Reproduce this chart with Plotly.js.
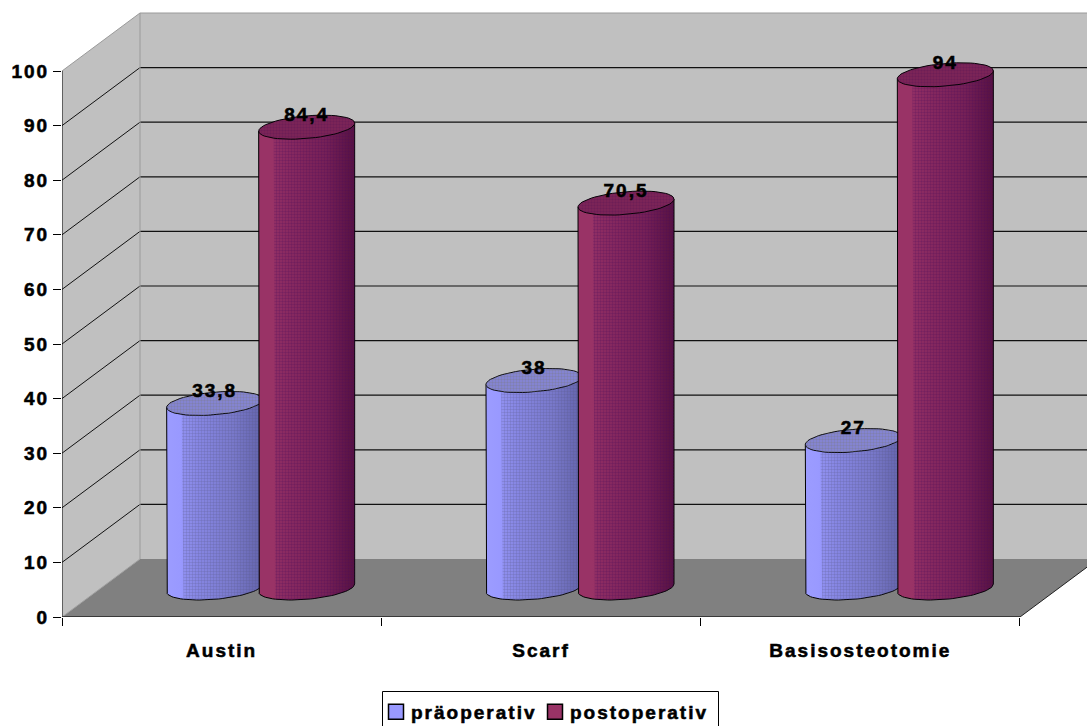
<!DOCTYPE html>
<html>
<head>
<meta charset="utf-8">
<script src="https://cdn.plot.ly/plotly-3.0.1.min.js"></script>
<style>
  html, body { margin: 0; padding: 0; background: #fff; overflow: hidden; }
  #chart { width: 1087px; height: 726px; }
  #chart svg text { letter-spacing: 2px; stroke: #000; stroke-width: 0.55px; }
  #chart .legend .scrollbox { clip-path: none !important; }
</style>
</head>
<body>
<div id="chart"></div>
<script>
// Chart data
const categories = ['Austin', 'Scarf', 'Basisosteotomie'];
const seriesNames = ['präoperativ', 'postoperativ'];
const preValues = [33.8, 38, 27];
const postValues = [84.4, 70.5, 94];
const valueTicks = [0, 10, 20, 30, 40, 50, 60, 70, 80, 90, 100];
const categoryEdges = [0, 1, 2, 3];

// Axis scale: pixels per data unit
const PX_X = 319.33, PX_Y = 5.46;
const W = 1087, H = 726, ML = 62, MB = 109;
// Oblique depth of the floor, in data units
const DEPTH_X = 78 / PX_X, DEPTH_Y = 58 / PX_Y;
const FONT = { family: 'Liberation Sans, Arial, sans-serif', size: 19, color: '#000', weight: 700 };

const styles = [
  { base: '#9999FF', grad: [[0, '#9C9CFF'], [0.14, '#9999FF'], [0.32, '#8C8CEE'], [0.7, '#7C7CD2'], [1, '#6565B0']],
    cap: '#8686DC', dot: 'rgba(85,85,125,0.38)', capDot: 'rgba(120,120,130,0.50)' },
  { base: '#993366', grad: [[0, '#993366'], [0.15, '#993366'], [0.32, '#8E2C60'], [0.7, '#7A2256'], [1, '#581240']],
    cap: '#7F2658', dot: 'rgba(70,10,90,0.38)', capDot: 'rgba(70,10,80,0.30)' }
];

// Cylinder ellipse in pixels: half-axes along the front plane and through the depth
const R = 48, CAP_B = 16, CAP_C = 12, CAP_A = Math.sqrt(R * R - CAP_B * CAP_B);
const BAR_SHIFT = 46 / PX_X;
const TILT = Math.atan(CAP_B / CAP_A);

function ellipsePoint(cx, cy, t) {
  return [cx + (CAP_A * Math.cos(t) + CAP_B * Math.sin(t)) / PX_X,
          cy + (CAP_C * Math.sin(t)) / PX_Y];
}
function arc(cx, cy, from, to, n) {
  const xs = [], ys = [];
  for (let i = 0; i <= n; i++) {
    const p = ellipsePoint(cx, cy, from + (to - from) * i / n);
    xs.push(p[0]); ys.push(p[1]);
  }
  return [xs, ys];
}

const traces = [];

// Flat bars carry the values and the legend swatches; the cylinders are drawn over them
[preValues, postValues].forEach((vals, s) => {
  traces.push({
    type: 'bar',
    name: seriesNames[s],
    x: categories.map((_, i) => i + 0.5 + DEPTH_X / 2 + (s ? BAR_SHIFT : -BAR_SHIFT)),
    y: vals,
    base: DEPTH_Y / 2,
    width: 50 / PX_X,
    marker: { color: styles[s].base, line: { color: '#000', width: 1.5 } },
    hoverinfo: 'skip'
  });
});

function addCylinder(cx, v, st) {
  const yBase = DEPTH_Y / 2, yTop = v + DEPTH_Y / 2;
  const L = cx - R / PX_X, Rt = cx + R / PX_X;
  const front = arc(cx, yBase, Math.PI + TILT, 2 * Math.PI + TILT, 40);
  const topL = ellipsePoint(cx, yTop, Math.PI + TILT);
  const topR = ellipsePoint(cx, yTop, TILT);
  // Shaded body
  traces.push({
    type: 'scatter', mode: 'lines', showlegend: false, hoverinfo: 'skip',
    x: [topL[0]].concat(front[0], [topR[0], topL[0]]),
    y: [topL[1]].concat(front[1], [topR[1], topL[1]]),
    line: { color: '#000', width: 1 }, fill: 'toself',
    fillgradient: { type: 'horizontal', colorscale: st.grad, start: L, stop: Rt }
  });
  // Stipple over the shaded part of the body
  const inset = L + 15 / PX_X;
  const sx = [], sy = [];
  front[0].forEach((x, i) => { if (x >= inset) { sx.push(x); sy.push(front[1][i]); } });
  traces.push({
    type: 'scatter', mode: 'none', showlegend: false, hoverinfo: 'skip',
    x: [inset].concat(sx, [Rt, inset]),
    y: [yTop].concat(sy, [yTop, yTop]),
    fill: 'toself', fillcolor: 'rgba(0,0,0,0)',
    fillpattern: { shape: '.', size: 3, solidity: 0.5, fgcolor: st.dot, bgcolor: 'rgba(0,0,0,0)' }
  });
  // Top face
  const cap = arc(cx, yTop, 0, 2 * Math.PI, 60);
  traces.push({
    type: 'scatter', mode: 'lines', showlegend: false, hoverinfo: 'skip',
    x: cap[0], y: cap[1], line: { color: '#000', width: 1 },
    fill: 'toself', fillcolor: st.cap
  });
  traces.push({
    type: 'scatter', mode: 'none', showlegend: false, hoverinfo: 'skip',
    x: cap[0], y: cap[1], fill: 'toself', fillcolor: 'rgba(0,0,0,0)',
    fillpattern: { shape: '.', size: 3, solidity: 0.5, fgcolor: st.capDot, bgcolor: 'rgba(0,0,0,0)' }
  });
}

[preValues, postValues].forEach((vals, s) => {
  vals.forEach((v, i) => {
    addCylinder(i + 0.5 + DEPTH_X / 2 + (s ? BAR_SHIFT : -BAR_SHIFT), v, styles[s]);
  });
});

// Value labels just above each top face
[preValues, postValues].forEach((vals, s) => {
  traces.push({
    type: 'scatter', mode: 'text', showlegend: false, hoverinfo: 'skip',
    x: categories.map((_, i) => i + 0.5 + DEPTH_X / 2 + (s ? BAR_SHIFT : -BAR_SHIFT)),
    y: vals.map(v => v + DEPTH_Y / 2 + 11 / PX_Y),
    text: vals.map(v => String(v).replace('.', ',')),
    textposition: 'middle center',
    textfont: FONT,
    cliponaxis: false
  });
});

// Walls, floor and gridlines of the box
const polygon = pts => 'M' + pts.map(p => p[0] + ',' + p[1]).join('L') + 'Z';
const line = (x0, y0, x1, y1, color, width) => ({
  type: 'line', xref: 'x', yref: 'y', layer: 'below', x0, y0, x1, y1,
  line: { color, width }
});
const fillShape = (pts, color) => ({
  type: 'path', xref: 'x', yref: 'y', layer: 'below', path: polygon(pts),
  fillcolor: color, line: { width: 0 }
});
const xEnd = categoryEdges[categoryEdges.length - 1];
const shapes = [
  fillShape([[DEPTH_X, DEPTH_Y], [xEnd + DEPTH_X, DEPTH_Y], [xEnd + DEPTH_X, 100 + DEPTH_Y], [DEPTH_X, 100 + DEPTH_Y]], '#C0C0C0'),
  fillShape([[0, 0], [DEPTH_X, DEPTH_Y], [DEPTH_X, 100 + DEPTH_Y], [0, 100]], '#C0C0C0'),
  fillShape([[0, 0], [xEnd, 0], [xEnd + DEPTH_X, DEPTH_Y], [DEPTH_X, DEPTH_Y]], '#808080')
];
valueTicks.filter(v => v > 0 && v < 100).forEach(v => {
  shapes.push(line(DEPTH_X, v + DEPTH_Y, xEnd + DEPTH_X, v + DEPTH_Y, '#111', 1.2));
  shapes.push(line(0, v, DEPTH_X, v + DEPTH_Y, '#111', 1));
});
shapes.push(line(DEPTH_X, DEPTH_Y, DEPTH_X, 100 + DEPTH_Y, '#9a9a9a', 1));
shapes.push(line(DEPTH_X, 100 + DEPTH_Y, xEnd + DEPTH_X, 100 + DEPTH_Y, '#9a9a9a', 1));
shapes.push(line(0, 100, DEPTH_X, 100 + DEPTH_Y, '#9a9a9a', 1));
shapes.push(line(0, 0, DEPTH_X, DEPTH_Y, '#a0a0a0', 1));
shapes.push(line(xEnd, 0, xEnd + DEPTH_X, DEPTH_Y, '#222', 1));
// Axis lines stop at the ends of the scale
shapes.push(line(0, 0, 0, 100, '#000', 1));
shapes.push(line(0, 0, xEnd, 0, '#222', 1.5));
// Legend frame runs past the lower page edge
shapes.push({
  type: 'rect', xref: 'paper', yref: 'paper', layer: 'above',
  x0: (382.5 - ML) / (W - ML), x1: (718.5 - ML) / (W - ML),
  y0: -0.3, y1: (H - MB - 691.5) / (H - MB),
  fillcolor: 'rgba(255,255,255,0)', line: { color: '#000', width: 1 }
});

const layout = {
  width: W, height: H,
  margin: { l: ML, r: 0, t: 0, b: MB, pad: 0, autoexpand: false },
  paper_bgcolor: '#fff', plot_bgcolor: '#fff',
  font: FONT,
  barmode: 'overlay',
  showlegend: true,
  legend: {
    orientation: 'h', x: (371 - ML) / (W - ML), xanchor: 'left',
    y: (H - MB - 693) / (H - MB), yanchor: 'top',
    font: FONT, bgcolor: 'rgba(0,0,0,0)', borderwidth: 0,
    itemwidth: 30, entrywidth: 114, entrywidthmode: 'pixels',
    traceorder: 'normal'
  },
  xaxis: {
    range: [0, (W - ML) / PX_X], showgrid: false, zeroline: false, showline: false,
    tickmode: 'array', tickvals: categories.map((_, i) => i + 0.5), ticktext: categories,
    ticks: 'outside', ticklen: 16, tickcolor: 'rgba(0,0,0,0)', tickfont: FONT,
    minor: { tickmode: 'array', tickvals: categoryEdges, ticks: 'outside', ticklen: 8, tickcolor: '#000', tickwidth: 1, showgrid: false }
  },
  yaxis: {
    range: [0, (H - MB) / PX_Y], showgrid: false, zeroline: false, showline: false,
    tickmode: 'array', tickvals: valueTicks, ticktext: valueTicks.map(String),
    ticks: 'outside', ticklen: 8, tickcolor: '#000', tickwidth: 1, tickfont: FONT
  },
  shapes
};

Plotly.newPlot('chart', traces, layout, { displayModeBar: false, staticPlot: true }).then(gd => {
  // Legend swatches are larger and sit closer to their labels
  gd.querySelectorAll('.legendpoints path').forEach(p => {
    p.setAttribute('d', 'M12.5,7.5H-2.5V-7.5H12.5Z');
  });
});
</script>
</body>
</html>
